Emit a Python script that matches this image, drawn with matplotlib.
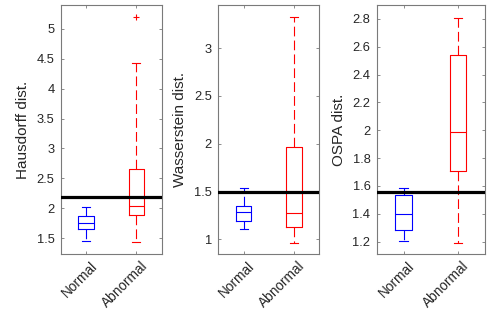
import matplotlib
matplotlib.use("Agg")
import matplotlib.pyplot as plt
from matplotlib.transforms import ScaledTranslation

plt.rcParams['font.family'] = ['Liberation Sans', 'DejaVu Sans']
plt.rcParams['lines.scale_dashes'] = False

categories = ["Normal", "Abnormal"]
ylabels = ["Hausdorff dist.", "Wasserstein dist.", "OSPA dist."]

# per panel: [Normal, Abnormal]
whislo = [[1.45, 1.43], [1.11, 0.965], [1.204, 1.19]]
q1 = [[1.65, 1.88], [1.195, 1.13], [1.283, 1.71]]
med = [[1.76, 2.04], [1.29, 1.28], [1.396, 1.99]]
q3 = [[1.87, 2.66], [1.35, 1.97], [1.534, 2.54]]
whishi = [[2.02, 4.43], [1.535, 3.32], [1.587, 2.81]]
fliers = [[[], [5.2]], [[], []], [[], []]]
thresholds = [2.19, 1.49, 1.56]

ylims = [(1.23, 5.4), (0.843, 3.45), (1.109, 2.90)]
yticks = [[1.5, 2, 2.5, 3, 3.5, 4, 4.5, 5],
          [1, 1.5, 2, 2.5, 3],
          [1.2, 1.4, 1.6, 1.8, 2, 2.2, 2.4, 2.6, 2.8]]
ytick_labels = [["1.5", "2", "2.5", "3", "3.5", "4", "4.5", "5"],
                ["1", "1.5", "2", "2.5", "3"],
                ["1.2", "1.4", "1.6", "1.8", "2", "2.2", "2.4", "2.6", "2.8"]]

colors = ["#0000ff", "#ff0000"]

fig = plt.figure(figsize=(4.91, 3.13), dpi=100)
W, H = 491.0, 313.0
rects = [(60.7, 101), (218.3, 101), (376.7, 108.3)]
bottom_px, top_px = 254.3, 5.0

spine_c = "#7a7a7a"
text_c = "#262626"

for i in range(3):
    left, width = rects[i]
    ax = fig.add_axes([left / W, (H - bottom_px) / H, width / W, (bottom_px - top_px) / H])
    for j in range(2):
        stats = [dict(med=med[i][j], q1=q1[i][j], q3=q3[i][j],
                      whislo=whislo[i][j], whishi=whishi[i][j],
                      fliers=fliers[i][j])]
        c = colors[j]
        ax.bxp(stats, positions=[j + 1], widths=0.31,
               boxprops=dict(color=c, linewidth=0.8),
               medianprops=dict(color=c, linewidth=0.8),
               whiskerprops=dict(color=c, linewidth=0.8, linestyle=(0, (7, 3))),
               capprops=dict(color=c, linewidth=0.8),
               capwidths=0.16,
               flierprops=dict(marker='+', markeredgecolor=c, markersize=5,
                               markeredgewidth=0.8, linestyle='none'),
               manage_ticks=False)
    ax.axhline(thresholds[i], color='black', linewidth=2.3, zorder=5)
    ax.set_xlim(0.5, 2.5)
    ax.set_ylim(*ylims[i])
    ax.set_yticks(yticks[i])
    ax.set_yticklabels(ytick_labels[i])
    ax.set_xticks([1, 2])
    ax.tick_params(direction='in', length=2.5, width=0.6, color=spine_c,
                   labelcolor=text_c, top=True, right=True)
    ax.tick_params(axis='y', labelsize=9.3, pad=4.5)
    ax.tick_params(axis='x', labelsize=9.8, pad=5)
    ax.set_xticklabels(categories, rotation=45, ha='right', rotation_mode='anchor')
    off = ScaledTranslation(4 / 100, 2 / 100, fig.dpi_scale_trans)
    for lab in ax.get_xticklabels():
        lab.set_transform(lab.get_transform() + off)
    for s in ax.spines.values():
        s.set_color(spine_c)
        s.set_linewidth(0.8)
    ax.set_ylabel(ylabels[i], fontsize=11, color=text_c, labelpad=5)

fig.savefig("out.png", dpi=100)
